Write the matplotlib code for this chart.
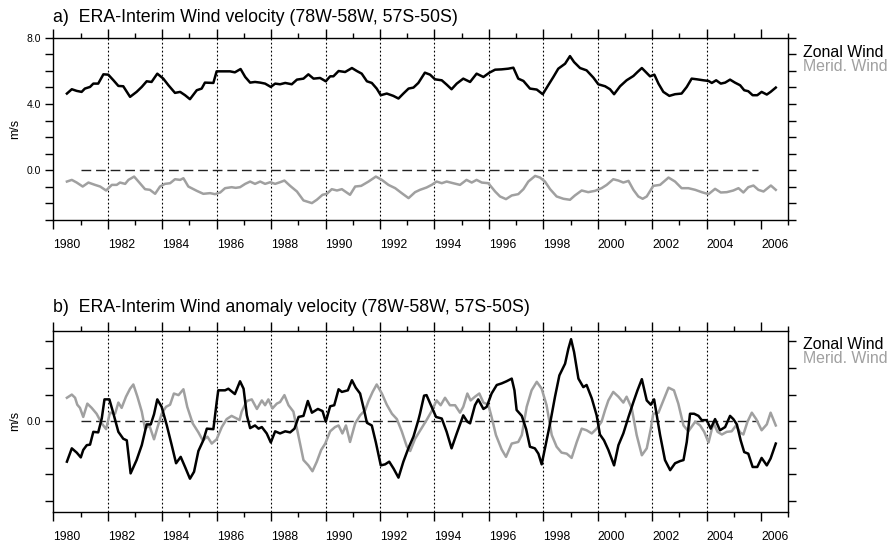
import matplotlib
matplotlib.use('Agg')
import matplotlib.pyplot as plt
import numpy as np

plt.rcParams['font.family'] = ['Liberation Sans', 'DejaVu Sans']

# ---------------- data ----------------
zonal_t = [1980.00, 1980.18, 1980.36, 1980.54, 1980.66, 1980.85, 1980.97, 1981.15, 1981.34, 1981.52,
           1981.71, 1981.89, 1982.07, 1982.32, 1982.56, 1982.75, 1982.93, 1983.11, 1983.32, 1983.54,
           1983.73, 1983.97, 1984.16, 1984.34, 1984.52, 1984.77, 1984.95, 1985.07, 1985.38, 1985.50,
           1985.75, 1985.99, 1986.17, 1986.38, 1986.55, 1986.73, 1986.91, 1987.10, 1987.28, 1987.49,
           1987.65, 1987.83, 1988.02, 1988.26, 1988.45, 1988.69, 1988.87, 1989.06, 1989.30, 1989.51,
           1989.67, 1989.79, 1989.98, 1990.22, 1990.47, 1990.65, 1990.83, 1991.02, 1991.20, 1991.38,
           1991.53, 1991.75, 1991.99, 1992.18, 1992.36, 1992.55, 1992.73, 1992.91, 1993.15, 1993.34,
           1993.52, 1993.77, 1993.95, 1994.13, 1994.32, 1994.56, 1994.81, 1995.05, 1995.30, 1995.52,
           1995.73, 1995.97, 1996.21, 1996.40, 1996.58, 1996.77, 1997.01, 1997.26, 1997.48, 1997.68,
           1997.87, 1998.05, 1998.30, 1998.48, 1998.63, 1998.85, 1999.09, 1999.34, 1999.52, 1999.77,
           1999.95, 2000.10, 2000.32, 2000.56, 2000.81, 2000.96, 2001.12, 2001.24, 2001.42, 2001.58,
           2001.73, 2001.91, 2002.13, 2002.34, 2002.58, 2002.77, 2002.95, 2003.14, 2003.38, 2003.57,
           2003.69, 2003.85, 2004.02, 2004.18, 2004.36, 2004.54, 2004.73, 2004.88, 2005.03, 2005.19,
           2005.36, 2005.52, 2005.71, 2005.85, 2006.04]
zonal_v = [4.63, 4.89, 4.79, 4.73, 4.93, 5.03, 5.23, 5.23, 5.79, 5.77,
           5.43, 5.09, 5.07, 4.43, 4.73, 5.03, 5.37, 5.33, 5.83, 5.53,
           5.13, 4.67, 4.73, 4.53, 4.29, 4.83, 4.93, 5.29, 5.27, 5.97,
           5.97, 5.97, 5.91, 6.11, 5.63, 5.29, 5.33, 5.29, 5.23, 5.03,
           5.23, 5.19, 5.27, 5.19, 5.47, 5.53, 5.79, 5.53, 5.57, 5.37,
           5.67, 5.67, 5.99, 5.93, 6.17, 5.99, 5.83, 5.37, 5.27, 4.93,
           4.53, 4.63, 4.49, 4.33, 4.63, 4.93, 4.99, 5.27, 5.89, 5.77,
           5.49, 5.43, 5.17, 4.89, 5.23, 5.53, 5.33, 5.83, 5.63, 5.89,
           6.07, 6.09, 6.13, 6.19, 5.53, 5.39, 4.93, 4.87, 4.59, 5.13,
           5.63, 6.13, 6.43, 6.89, 6.53, 6.17, 6.03, 5.59, 5.19, 5.07,
           4.89, 4.59, 5.07, 5.43, 5.69, 5.93, 6.17, 5.97, 5.67, 5.77,
           5.23, 4.73, 4.49, 4.59, 4.63, 5.03, 5.53, 5.49, 5.43, 5.39,
           5.27, 5.43, 5.23, 5.29, 5.47, 5.29, 5.13, 4.83, 4.77, 4.53,
           4.53, 4.73, 4.57, 4.73, 4.99]

merid_t = [1980.00, 1980.18, 1980.36, 1980.58, 1980.79, 1981.03, 1981.22, 1981.44, 1981.65, 1981.83,
           1981.95, 1982.14, 1982.26, 1982.47, 1982.66, 1982.87, 1983.05, 1983.24, 1983.42, 1983.60,
           1983.79, 1983.97, 1984.16, 1984.28, 1984.46, 1984.77, 1985.01, 1985.26, 1985.44, 1985.63,
           1985.81, 1986.05, 1986.20, 1986.36, 1986.55, 1986.73, 1986.91, 1987.10, 1987.28, 1987.47,
           1987.65, 1987.83, 1987.99, 1988.20, 1988.45, 1988.69, 1989.00, 1989.18, 1989.39, 1989.55,
           1989.73, 1989.92, 1990.10, 1990.40, 1990.59, 1990.81, 1991.08, 1991.35, 1991.57, 1991.81,
           1992.06, 1992.30, 1992.55, 1992.79, 1992.97, 1993.21, 1993.40, 1993.58, 1993.77, 1993.95,
           1994.19, 1994.44, 1994.68, 1994.87, 1995.05, 1995.24, 1995.48, 1995.73, 1995.91, 1996.13,
           1996.34, 1996.58, 1996.77, 1996.95, 1997.20, 1997.38, 1997.56, 1997.75, 1997.99, 1998.24,
           1998.48, 1998.66, 1998.91, 1999.15, 1999.40, 1999.64, 1999.83, 2000.07, 2000.26, 2000.44,
           2000.63, 2000.81, 2000.99, 2001.15, 2001.30, 2001.54, 2001.79, 2002.10, 2002.34, 2002.58,
           2002.83, 2003.08, 2003.32, 2003.57, 2003.81, 2004.02, 2004.24, 2004.48, 2004.67, 2004.85,
           2005.03, 2005.22, 2005.40, 2005.59, 2005.86, 2006.04]
merid_v = [-0.68, -0.58, -0.74, -0.98, -0.74, -0.88, -0.98, -1.22, -0.88, -0.88,
           -0.74, -0.82, -0.58, -0.38, -0.74, -1.14, -1.18, -1.42, -0.98, -0.82,
           -0.78, -0.54, -0.58, -0.48, -0.98, -1.24, -1.42, -1.38, -1.44, -1.34,
           -1.08, -1.02, -1.06, -1.02, -0.82, -0.68, -0.82, -0.68, -0.82, -0.72,
           -0.82, -0.72, -0.62, -0.94, -1.28, -1.82, -1.98, -1.78, -1.48, -1.42,
           -1.14, -1.22, -1.14, -1.48, -0.98, -0.94, -0.68, -0.38, -0.58, -0.88,
           -1.08, -1.38, -1.68, -1.32, -1.18, -1.04, -0.88, -0.68, -0.78, -0.68,
           -0.78, -0.88, -0.58, -0.74, -0.58, -0.74, -0.78, -1.28, -1.58, -1.74,
           -1.52, -1.44, -1.14, -0.68, -0.34, -0.44, -0.68, -1.14, -1.58, -1.72,
           -1.78, -1.52, -1.22, -1.32, -1.24, -1.08, -0.88, -0.54, -0.62, -0.74,
           -0.64, -1.18, -1.58, -1.72, -1.58, -0.94, -0.88, -0.44, -0.68, -1.08,
           -1.08, -1.18, -1.32, -1.44, -1.12, -1.34, -1.32, -1.22, -1.08, -1.34,
           -1.02, -0.92, -1.18, -1.28, -0.92, -1.18]

zonal_anom_t = [1980.00, 1980.18, 1980.36, 1980.51, 1980.60, 1980.73, 1980.85, 1980.97, 1981.15, 1981.28,
                1981.38, 1981.56, 1981.71, 1981.89, 1982.07, 1982.20, 1982.34, 1982.56, 1982.75, 1982.93,
                1983.08, 1983.20, 1983.32, 1983.48, 1983.67, 1983.85, 1984.01, 1984.18, 1984.34, 1984.52,
                1984.67, 1984.83, 1985.01, 1985.14, 1985.38, 1985.50, 1985.56, 1985.81, 1985.93, 1986.17,
                1986.36, 1986.49, 1986.61, 1986.73, 1986.91, 1987.04, 1987.16, 1987.34, 1987.49, 1987.65,
                1987.83, 1988.02, 1988.20, 1988.36, 1988.51, 1988.69, 1988.85, 1989.00, 1989.22, 1989.39,
                1989.51, 1989.67, 1989.82, 1989.98, 1990.10, 1990.32, 1990.47, 1990.61, 1990.77, 1990.93,
                1991.02, 1991.20, 1991.35, 1991.53, 1991.69, 1991.84, 1992.00, 1992.18, 1992.36, 1992.55,
                1992.73, 1992.91, 1992.97, 1993.12, 1993.21, 1993.40, 1993.56, 1993.77, 1993.95, 1994.13,
                1994.32, 1994.56, 1994.71, 1994.81, 1994.99, 1995.11, 1995.30, 1995.42, 1995.60, 1995.79,
                1995.97, 1996.15, 1996.34, 1996.44, 1996.52, 1996.71, 1996.87, 1997.01, 1997.19, 1997.32,
                1997.44, 1997.56, 1997.75, 1997.93, 1998.09, 1998.30, 1998.42, 1998.52, 1998.63, 1998.79,
                1998.97, 1999.09, 1999.28, 1999.46, 1999.58, 1999.73, 1999.89, 2000.10, 2000.26, 2000.44,
                2000.63, 2000.81, 2000.96, 2001.12, 2001.30, 2001.45, 2001.57, 2001.67, 2001.79, 2001.97,
                2002.16, 2002.34, 2002.52, 2002.65, 2002.77, 2002.89, 2003.04, 2003.20, 2003.32, 2003.50,
                2003.65, 2003.81, 2003.99, 2004.18, 2004.36, 2004.48, 2004.61, 2004.75, 2004.88, 2005.03,
                2005.19, 2005.36, 2005.52, 2005.71, 2005.85, 2006.04]
zonal_anom_v = [-0.76, -0.51, -0.59, -0.68, -0.54, -0.45, -0.44, -0.20, -0.21, 0.05,
                0.41, 0.41, 0.14, -0.20, -0.33, -0.36, -0.98, -0.73, -0.45, -0.06,
                -0.06, 0.13, 0.41, 0.27, -0.08, -0.45, -0.79, -0.67, -0.86, -1.08,
                -0.95, -0.56, -0.36, -0.14, -0.15, 0.35, 0.58, 0.58, 0.61, 0.51,
                0.75, 0.61, 0.11, -0.13, -0.08, -0.14, -0.11, -0.23, -0.40, -0.19,
                -0.23, -0.19, -0.21, -0.14, 0.08, 0.10, 0.38, 0.16, 0.23, 0.19,
                -0.01, 0.28, 0.30, 0.60, 0.55, 0.58, 0.77, 0.63, 0.52, 0.18,
                -0.03, -0.08, -0.40, -0.83, -0.81, -0.76, -0.89, -1.06, -0.76, -0.50,
                -0.29, 0.02, 0.14, 0.48, 0.49, 0.27, 0.08, 0.05, -0.20, -0.51,
                -0.23, 0.11, -0.01, -0.04, 0.30, 0.41, 0.23, 0.27, 0.52, 0.68,
                0.71, 0.75, 0.80, 0.58, 0.21, 0.10, -0.15, -0.48, -0.51, -0.61,
                -0.81, -0.51, -0.04, 0.46, 0.86, 1.08, 1.36, 1.54, 1.30, 0.80,
                0.64, 0.68, 0.43, 0.11, -0.25, -0.36, -0.54, -0.83, -0.45, -0.23,
                0.08, 0.36, 0.58, 0.79, 0.39, 0.31, 0.41, 0.11, -0.26, -0.73,
                -0.92, -0.79, -0.75, -0.73, -0.39, 0.14, 0.14, 0.10, 0.02, 0.02,
                -0.14, 0.04, -0.17, -0.11, 0.10, 0.04, -0.06, -0.36, -0.58, -0.61,
                -0.86, -0.86, -0.69, -0.83, -0.70, -0.42]

merid_anom_t = [1980.00, 1980.18, 1980.30, 1980.38, 1980.48, 1980.60, 1980.75, 1980.91, 1981.09, 1981.28,
                1981.44, 1981.58, 1981.77, 1981.89, 1982.01, 1982.17, 1982.32, 1982.44, 1982.59, 1982.75,
                1982.87, 1983.03, 1983.20, 1983.32, 1983.48, 1983.64, 1983.79, 1983.93, 1984.10, 1984.28,
                1984.42, 1984.62, 1984.83, 1984.99, 1985.16, 1985.32, 1985.50, 1985.69, 1985.87, 1986.05,
                1986.24, 1986.34, 1986.42, 1986.61, 1986.79, 1986.98, 1987.16, 1987.28, 1987.40, 1987.55,
                1987.71, 1987.83, 1987.99, 1988.14, 1988.32, 1988.51, 1988.69, 1988.87, 1989.02, 1989.18,
                1989.34, 1989.49, 1989.67, 1989.85, 1989.98, 1990.12, 1990.25, 1990.40, 1990.59, 1990.77,
                1990.96, 1991.08, 1991.23, 1991.38, 1991.57, 1991.75, 1991.94, 1992.12, 1992.30, 1992.49,
                1992.61, 1992.79, 1992.98, 1993.21, 1993.40, 1993.58, 1993.73, 1993.89, 1994.07, 1994.26,
                1994.44, 1994.56, 1994.71, 1994.83, 1994.99, 1995.15, 1995.30, 1995.48, 1995.60, 1995.76,
                1995.97, 1996.13, 1996.34, 1996.58, 1996.71, 1996.89, 1997.07, 1997.26, 1997.44, 1997.62,
                1997.81, 1997.99, 1998.17, 1998.36, 1998.54, 1998.73, 1998.91, 1999.09, 1999.28, 1999.46,
                1999.64, 1999.77, 1999.89, 2000.07, 2000.26, 2000.44, 2000.56, 2000.75, 2000.93, 2001.12,
                2001.30, 2001.45, 2001.54, 2001.73, 2001.91, 2002.10, 2002.30, 2002.46, 2002.65, 2002.83,
                2003.08, 2003.26, 2003.41, 2003.57, 2003.75, 2003.90, 2004.06, 2004.24, 2004.42, 2004.58,
                2004.73, 2004.85, 2005.00, 2005.16, 2005.32, 2005.52, 2005.71, 2005.85, 2006.04]
merid_anom_v = [0.44, 0.50, 0.44, 0.31, 0.25, 0.08, 0.33, 0.25, 0.14, -0.04,
                -0.15, 0.16, 0.14, 0.35, 0.25, 0.46, 0.61, 0.69, 0.46, 0.18,
                -0.14, -0.08, -0.34, -0.13, 0.14, 0.27, 0.31, 0.52, 0.49, 0.60,
                0.27, -0.04, -0.21, -0.36, -0.29, -0.42, -0.34, -0.11, 0.04, 0.10,
                0.05, 0.02, 0.18, 0.38, 0.41, 0.23, 0.39, 0.30, 0.41, 0.24,
                0.33, 0.36, 0.49, 0.30, 0.18, -0.29, -0.73, -0.83, -0.94, -0.76,
                -0.54, -0.42, -0.19, -0.11, -0.08, -0.23, -0.08, -0.39, -0.04, 0.11,
                0.21, 0.38, 0.55, 0.69, 0.52, 0.31, 0.14, 0.04, -0.19, -0.48,
                -0.56, -0.33, -0.17, 0.02, 0.19, 0.39, 0.30, 0.44, 0.30, 0.30,
                0.16, 0.27, 0.52, 0.39, 0.46, 0.52, 0.35, 0.31, 0.08, -0.26,
                -0.53, -0.67, -0.42, -0.39, -0.26, 0.27, 0.58, 0.74, 0.61, 0.30,
                -0.26, -0.48, -0.59, -0.61, -0.69, -0.39, -0.14, -0.17, -0.23, -0.14,
                -0.01, 0.21, 0.39, 0.55, 0.46, 0.35, 0.46, 0.24, -0.26, -0.64,
                -0.51, -0.14, 0.14, 0.16, 0.39, 0.63, 0.58, 0.33, -0.08, -0.19,
                -0.01, -0.08, -0.20, -0.40, -0.03, -0.20, -0.25, -0.20, -0.19, -0.08,
                -0.21, -0.25, -0.01, 0.16, 0.04, -0.17, -0.06, 0.16, -0.08]

year_labels = list(range(1980, 2007, 2))
titles = ['a)  ERA-Interim Wind velocity (78W-58W, 57S-50S)',
          'b)  ERA-Interim Wind anomaly velocity (78W-58W, 57S-50S)']
legend_names = ['Zonal Wind', 'Merid. Wind']

# ---------------- figure ----------------
W, H = 892, 544
fig = plt.figure(figsize=(W / 100, H / 100), dpi=100)


def axrect(l, t, r, b):
    return [l / W, 1 - b / H, (r - l) / W, (b - t) / H]


ax1 = fig.add_axes(axrect(53.3, 37.7, 788.3, 220.0))
ax2 = fig.add_axes(axrect(53.3, 330.7, 788.3, 511.7))

BLACK = '#000000'
GRAY = '#a0a0a0'
major_x = np.arange(1979.5, 2006.6, 2)
minor_x = np.arange(1980.5, 2006.6, 2)


def style(ax, ylim, ymaj, ymin, ylab):
    ax.set_xlim(1979.5, 2006.5)
    ax.set_ylim(*ylim)
    ax.set_xticks(major_x)
    ax.set_xticks(minor_x, minor=True)
    ax.set_xticklabels([])
    ax.set_yticks(ymaj)
    ax.set_yticklabels(ylab)
    ax.set_yticks(ymin, minor=True)
    ax.tick_params(axis='x', which='major', direction='out', length=6.5, width=1.0,
                   top=True, bottom=True)
    ax.tick_params(axis='x', which='minor', direction='out', length=3.3, width=1.0,
                   top=True, bottom=True)
    ax.tick_params(axis='y', which='both', direction='out', length=6.0, width=1.0,
                   left=True, right=True, labelsize=7.5, pad=3)
    for s in ax.spines.values():
        s.set_linewidth(1.0)
    for xv in major_x[1:-1]:
        ax.axvline(xv, color='black', lw=0.8, ls=(0, (1.6, 2.0)), zorder=1)
    ax.plot([1980.5, 2005.4], [0, 0], color='#222222', lw=1.0, ls=(0, (7, 3.5)), zorder=2)
    for yr in year_labels:
        ax.annotate(str(yr), xy=(yr, 0), xycoords=('data', 'axes fraction'),
                    xytext=(0, -18), textcoords='offset points',
                    ha='center', va='center', fontsize=8.7)


style(ax1, (-3, 8), [0, 4, 8], [-3, -2, -1, 1, 2, 3, 5, 6, 7], ['0.0', '4.0', '8.0'])
style(ax2, (-1.7, 1.7), [0], [-1.5, -1.0, -0.5, 0.5, 1.0, 1.5], ['0.0'])

ax1.plot(merid_t, merid_v, color=GRAY, lw=1.8, zorder=3)
ax1.plot(zonal_t, zonal_v, color=BLACK, lw=1.8, zorder=4)
ax2.plot(merid_anom_t, merid_anom_v, color=GRAY, lw=1.8, zorder=3)
ax2.plot(zonal_anom_t, zonal_anom_v, color=BLACK, lw=1.8, zorder=4)

# titles
fig.text(53.3 / W, 1 - 21.7 / H, titles[0], fontsize=12.8, ha='left', va='baseline')
fig.text(53.3 / W, 1 - 312.3 / H, titles[1], fontsize=12.8, ha='left', va='baseline')

# y labels
fig.text(15 / W, 1 - 129 / H, 'm/s', rotation=90, fontsize=9, ha='center', va='center')
fig.text(15 / W, 1 - 421 / H, 'm/s', rotation=90, fontsize=9, ha='center', va='center')

# legends
fig.text(803.3 / W, 1 - 57.3 / H, legend_names[0], color=BLACK, fontsize=11.4, va='baseline')
fig.text(803.3 / W, 1 - 70.7 / H, legend_names[1], color=GRAY, fontsize=11.4, va='baseline')
fig.text(803.3 / W, 1 - 349.0 / H, legend_names[0], color=BLACK, fontsize=11.4, va='baseline')
fig.text(803.3 / W, 1 - 362.7 / H, legend_names[1], color=GRAY, fontsize=11.4, va='baseline')

fig.savefig('out.png', dpi=100)
